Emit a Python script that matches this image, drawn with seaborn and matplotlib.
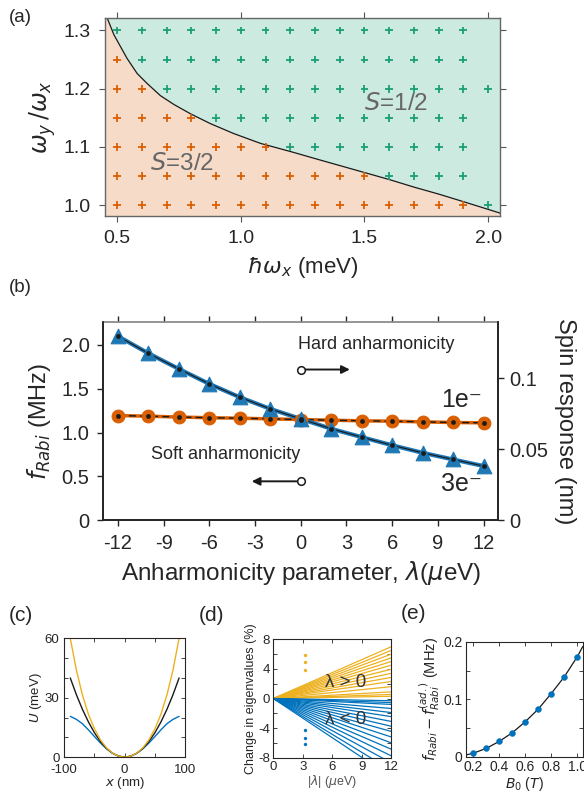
import pandas as pd
import seaborn as sns
import matplotlib.pyplot as plt

sns.set_theme(style="ticks")
plt.rcParams["font.family"] = ["Liberation Sans", "DejaVu Sans"]
plt.rcParams["axes.unicode_minus"] = False
plt.rcParams["mathtext.fontset"] = "dejavusans"

# ---------------------------
# (a) spin phase diagram
# ---------------------------
hw_grid = [0.5, 0.6, 0.7, 0.8, 0.9, 1.0, 1.1, 1.2, 1.3, 1.4, 1.5, 1.6, 1.7, 1.8, 1.9, 2.0]
ratio_rows = [1.0, 1.05, 1.1, 1.15, 1.2, 1.25, 1.3]
n_s32 = [15, 11, 7, 4, 2, 1, 0]        # points per row that end up in S=3/2
n_row = [16, 15, 15, 15, 16, 15, 15]   # points computed per row
bnd_hw = [0.449, 0.46, 0.487, 0.54, 0.581, 0.621, 0.675, 0.729, 0.796, 0.877, 0.971,
          1.08, 1.21, 1.30, 1.40, 1.50, 1.60, 1.70, 1.80, 1.90, 2.051]
bnd_ratio = [1.338, 1.321, 1.2925, 1.252, 1.226, 1.209, 1.188, 1.173, 1.157, 1.140, 1.123,
             1.106, 1.091, 1.080, 1.068, 1.056, 1.044, 1.031, 1.019, 1.006, 0.986]

# ---------------------------
# (b) Rabi frequency vs anharmonicity
# ---------------------------
lam = [-12, -10, -8, -6, -4, -2, 0, 2, 4, 6, 8, 10, 12]
f_1e = [1.195, 1.188, 1.178, 1.170, 1.165, 1.157, 1.150, 1.142, 1.135, 1.131, 1.123, 1.116, 1.112]
f_3e = [2.10, 1.905, 1.727, 1.556, 1.404, 1.271, 1.157, 1.044, 0.949, 0.856, 0.770, 0.694, 0.619]

# ---------------------------
# (c) confinement potentials
# ---------------------------
x_nm = [-90, -80, -70, -60, -50, -40, -30, -20, -10, 0, 10, 20, 30, 40, 50, 60, 70, 80, 90]
U_harm = [40, 31.6, 24.2, 17.8, 12.3, 7.9, 4.4, 2.0, 0.5, 0, 0.5, 2.0, 4.4, 7.9, 12.3, 17.8, 24.2, 31.6, 40]
U_hard = [60, 44.1, 31.5, 21.7, 14.3, 8.7, 4.7, 2.0, 0.5, 0, 0.5, 2.0, 4.7, 8.7, 14.3, 21.7, 31.5, 44.1, 60]
U_soft = [20.6, 19.1, 16.9, 13.8, 10.4, 7.1, 4.2, 1.9, 0.5, 0, 0.5, 1.9, 4.2, 7.1, 10.4, 13.8, 16.9, 19.1, 20.6]

# ---------------------------
# (d) change in eigenvalues
# ---------------------------
lam_span = [0, 12]
end_pos = [7.0, 6.5, 6.0, 5.5, 5.0, 4.5, 3.95, 3.4, 2.85, 2.3, 1.6, 0.9, 0.55, 0.3]
end_neg = [-0.3, -0.55, -0.8, -1.35, -1.9, -2.45, -3.1, -3.75, -4.45, -5.2, -6.0, -6.85, -7.75, -8.7, -9.7, -10.6]
dots_lam = [3.2, 3.2, 3.2]
dots_pos = [5.9, 4.9, 3.9]
dots_neg = [-4.3, -5.3, -6.2]

# ---------------------------
# (e) non-adiabatic correction
# ---------------------------
B0 = [0.2, 0.3, 0.4, 0.5, 0.6, 0.7, 0.8, 0.9, 1.0]
df_rabi = [0.0065, 0.0150, 0.0270, 0.0420, 0.0610, 0.0830, 0.1100, 0.1390, 0.1740]
fit_B = [0.144, 0.2, 0.3, 0.4, 0.5, 0.6, 0.7, 0.8, 0.9, 1.0, 1.043]
fit_df = [0.003, 0.0060, 0.0145, 0.0267, 0.0417, 0.0609, 0.0829, 0.1100, 0.1390, 0.1740, 0.1920]

ORANGE = "#d95f02"
GREEN = "#1b9e77"
BLUE = "#1f77b4"
ML_BLUE = "#0072BD"
ML_ORANGE = "#EDB120"

fig = plt.figure(figsize=(5.84, 7.92), dpi=100)

# ---------------------------
# panel (a)
# ---------------------------
ax = fig.add_axes([0.179, 0.727, 0.678, 0.250])
ax.fill_between(bnd_hw, bnd_ratio, 0.9, color="#f6dcc8", lw=0)
ax.fill_between(bnd_hw, bnd_ratio, 1.4, color="#cdeae0", lw=0)
sns.lineplot(x=bnd_hw, y=bnd_ratio, color="k", lw=0.9, ax=ax)

rows = []
for r, n3, nt in zip(ratio_rows, n_s32, n_row):
    for i, h in enumerate(hw_grid[:nt]):
        rows.append({"hw": h, "ratio": r, "S": "3/2" if i < n3 else "1/2"})
pts = pd.DataFrame(rows)
sns.scatterplot(data=pts, x="hw", y="ratio", hue="S", palette={"3/2": ORANGE, "1/2": GREEN},
                marker="+", s=32, linewidth=1.3, legend=False, ax=ax, zorder=3)
ax.text(1.50, 1.174, "$S$=1/2", fontsize=17.5, color="#666666", va="center")
ax.text(0.634, 1.071, "$S$=3/2", fontsize=17.5, color="#666666", va="center")
ax.set_xlim(0.449, 2.05)
ax.set_ylim(0.981, 1.321)
ax.set_xticks([0.5, 1.0, 1.5, 2.0])
ax.set_yticks([1.0, 1.1, 1.2, 1.3])
ax.tick_params(labelsize=14, top=True, right=True, direction="out", length=4, width=0.8,
               color="#555555", pad=6)
for s in ax.spines.values():
    s.set_visible(True)
    s.set_color("#666666")
    s.set_linewidth(1.0)
ax.set_xlabel(r"$\hbar\omega_x$ (meV)", fontsize=16, labelpad=6)
ax.set_ylabel(r"$\omega_y\,/\omega_x$", fontsize=17, labelpad=4)

# ---------------------------
# panel (b)
# ---------------------------
ax = fig.add_axes([0.177, 0.343, 0.676, 0.250])
sns.lineplot(x=lam, y=f_1e, color=ORANGE, lw=2.5, ax=ax)
sns.lineplot(x=lam, y=f_1e, color="k", lw=1.0, ls=(0, (5, 3)), ax=ax)
sns.lineplot(x=lam, y=f_3e, color=BLUE, lw=3.0, ax=ax)
sns.lineplot(x=lam, y=f_3e, color="k", lw=0.8, ax=ax)
sns.scatterplot(x=lam, y=f_1e, color=ORANGE, s=85, marker="o", edgecolor=ORANGE, ax=ax, zorder=3)
sns.scatterplot(x=lam, y=f_3e, color=BLUE, s=110, marker="^", edgecolor=BLUE, ax=ax, zorder=3)
sns.scatterplot(x=lam + lam, y=f_1e + f_3e, color="k", s=10, edgecolor="k", ax=ax, zorder=4)

ax.text(-0.2, 2.01, "Hard anharmonicity", fontsize=13, va="center")
ax.annotate("", xy=(3.4, 1.72), xytext=(0, 1.72),
            arrowprops=dict(arrowstyle="-|>", color="k", lw=1.4, mutation_scale=12, shrinkA=3))
ax.plot(0, 1.72, "o", mfc="white", mec="k", ms=5.5, mew=1.1, zorder=5)
ax.text(-9.8, 0.75, "Soft anharmonicity", fontsize=13, va="center")
ax.annotate("", xy=(-3.4, 0.445), xytext=(0, 0.445),
            arrowprops=dict(arrowstyle="-|>", color="k", lw=1.4, mutation_scale=12, shrinkA=3))
ax.plot(0, 0.445, "o", mfc="white", mec="k", ms=5.5, mew=1.1, zorder=5)
ax.text(11.9, 1.37, "1e\u207b", fontsize=18, ha="right", va="center")
ax.text(11.9, 0.42, "3e\u207b", fontsize=18, ha="right", va="center")

ax.set_xlim(-12.95, 12.95)
ax.set_ylim(0, 2.258)
ax.set_xticks([-12, -9, -6, -3, 0, 3, 6, 9, 12])
ax.set_xticklabels(["-12", "-9", "-6", "-3", "0", "3", "6", "9", "12"])
ax.set_yticks([0, 0.5, 1.0, 1.5, 2.0])
ax.set_yticklabels(["0", "0.5", "1.0", "1.5", "2.0"])
ax.tick_params(labelsize=14.5, top=True, direction="out", length=4, width=1.0, pad=6)
ax.spines["top"].set_visible(True)
ax.spines["top"].set_color("#888888")
ax.spines["left"].set_linewidth(1.3)
ax.spines["bottom"].set_linewidth(1.3)
ax.set_xlabel(r"Anharmonicity parameter, $\lambda$($\mu$eV)", fontsize=17.5, labelpad=4)
ax.set_ylabel(r"$f_{Rabi}$ (MHz)", fontsize=17, labelpad=6)

ax2 = ax.twinx()
ax2.set_ylim(0, 0.1395)
ax2.set_yticks([0, 0.05, 0.1])
ax2.set_yticklabels(["0", "0.05", "0.1"])
ax2.tick_params(labelsize=14.5, direction="out", length=4, width=1.0, pad=4)
ax2.spines["right"].set_visible(True)
ax2.spines["right"].set_linewidth(1.3)
ax2.spines["top"].set_visible(False)
ax2.set_ylabel("Spin response (nm)", fontsize=17, rotation=270, labelpad=20)

# ---------------------------
# panel (c)
# ---------------------------
def matlab_box(a, size=9.5):
    for s in a.spines.values():
        s.set_visible(True)
        s.set_color("#262626")
        s.set_linewidth(0.8)
    a.tick_params(labelsize=size, direction="in", top=True, right=True, length=3, width=0.6, pad=2.5)

ax = fig.add_axes([0.110, 0.044, 0.207, 0.150])
sns.lineplot(x=x_nm, y=U_soft, color=ML_BLUE, lw=1.0, ax=ax)
sns.lineplot(x=x_nm, y=U_harm, color="k", lw=1.0, ax=ax)
sns.lineplot(x=x_nm, y=U_hard, color=ML_ORANGE, lw=1.0, ax=ax)
ax.set_xlim(-100, 100)
ax.set_ylim(0, 60)
ax.set_xticks([-100, -50, 0, 50, 100])
ax.set_xticklabels(["-100", "", "0", "", "100"])
ax.set_yticks([0, 10, 20, 30, 40, 50, 60])
ax.set_yticklabels(["0", "", "", "30", "", "", "60"])
matlab_box(ax)
ax.tick_params(axis="x", pad=5)
ax.tick_params(axis="y", pad=3.5)
ax.set_xlabel("$x$ (nm)", fontsize=9.5, labelpad=-0.5)
ax.set_ylabel("$U$ (meV)", fontsize=9.5, labelpad=0.5)

# ---------------------------
# panel (d)
# ---------------------------
ax = fig.add_axes([0.468, 0.0433, 0.202, 0.1495])
d_rows = []
for k, e in enumerate(end_pos):
    d_rows += [{"id": k, "lam": lam_span[0], "dE": 0.0}, {"id": k, "lam": lam_span[1], "dE": e}]
df_pos = pd.DataFrame(d_rows)
d_rows = []
for k, e in enumerate(end_neg):
    d_rows += [{"id": k, "lam": lam_span[0], "dE": 0.0}, {"id": k, "lam": lam_span[1], "dE": e}]
df_neg = pd.DataFrame(d_rows)
sns.lineplot(data=df_pos, x="lam", y="dE", units="id", estimator=None, color=ML_ORANGE, lw=0.9, ax=ax)
sns.lineplot(data=df_neg, x="lam", y="dE", units="id", estimator=None, color=ML_BLUE, lw=0.9, ax=ax)
sns.scatterplot(x=dots_lam, y=dots_pos, color=ML_ORANGE, s=5, edgecolor=ML_ORANGE, ax=ax)
sns.scatterplot(x=dots_lam, y=dots_neg, color=ML_BLUE, s=5, edgecolor=ML_BLUE, ax=ax)
ax.text(5.3, 2.15, "\u03bb > 0", fontsize=13.5, color="#333333", va="center")
ax.text(5.3, -2.8, "\u03bb < 0", fontsize=13.5, color="#333333", va="center")
ax.set_xlim(0, 12)
ax.set_ylim(-8, 8)
ax.set_xticks([0, 3, 6, 9, 12])
ax.set_yticks([-8, -6, -4, -2, 0, 2, 4, 6, 8])
ax.set_yticklabels(["-8", "", "-4", "", "0", "", "4", "", "8"])
matlab_box(ax)
ax.set_xlabel(r"|$\lambda$| ($\mu$eV)", fontsize=9, color="#555555", labelpad=0)
ax.set_ylabel("Change in eigenvalues (%)", fontsize=9, labelpad=1)

# ---------------------------
# panel (e)
# ---------------------------
ax = fig.add_axes([0.798, 0.0446, 0.200, 0.145])
sns.lineplot(x=fit_B, y=fit_df, color="k", lw=0.9, ax=ax)
sns.scatterplot(x=B0, y=df_rabi, color=ML_BLUE, s=18, edgecolor=ML_BLUE, ax=ax, zorder=3)
ax.set_xlim(0.144, 1.043)
ax.set_ylim(0, 0.2)
ax.set_xticks([0.2, 0.4, 0.6, 0.8, 1.0])
ax.set_xticklabels(["0.2", "0.4", "0.6", "0.8", "1.0"])
ax.set_yticks([0, 0.05, 0.1, 0.15, 0.2])
ax.set_yticklabels(["0", "", "0.1", "", "0.2"])
matlab_box(ax, size=10)
ax.set_xlabel("$B_0$ ($T$)", fontsize=10, labelpad=0.5)
ax.set_ylabel(r"$f_{Rabi} - f_{Rabi}^{(ad.)}$ (MHz)", fontsize=10.5, labelpad=1)

# panel letters
for lab, px, py, fs in [("(a)", 9, 9, 13.5), ("(b)", 9, 279, 13.5), ("(c)", 9, 606, 15),
                        ("(d)", 199, 606, 15), ("(e)", 401, 604, 15)]:
    fig.text(px / 584, 1 - py / 792, lab, fontsize=fs, ha="left", va="top")

fig.savefig("out.png", dpi=100)
